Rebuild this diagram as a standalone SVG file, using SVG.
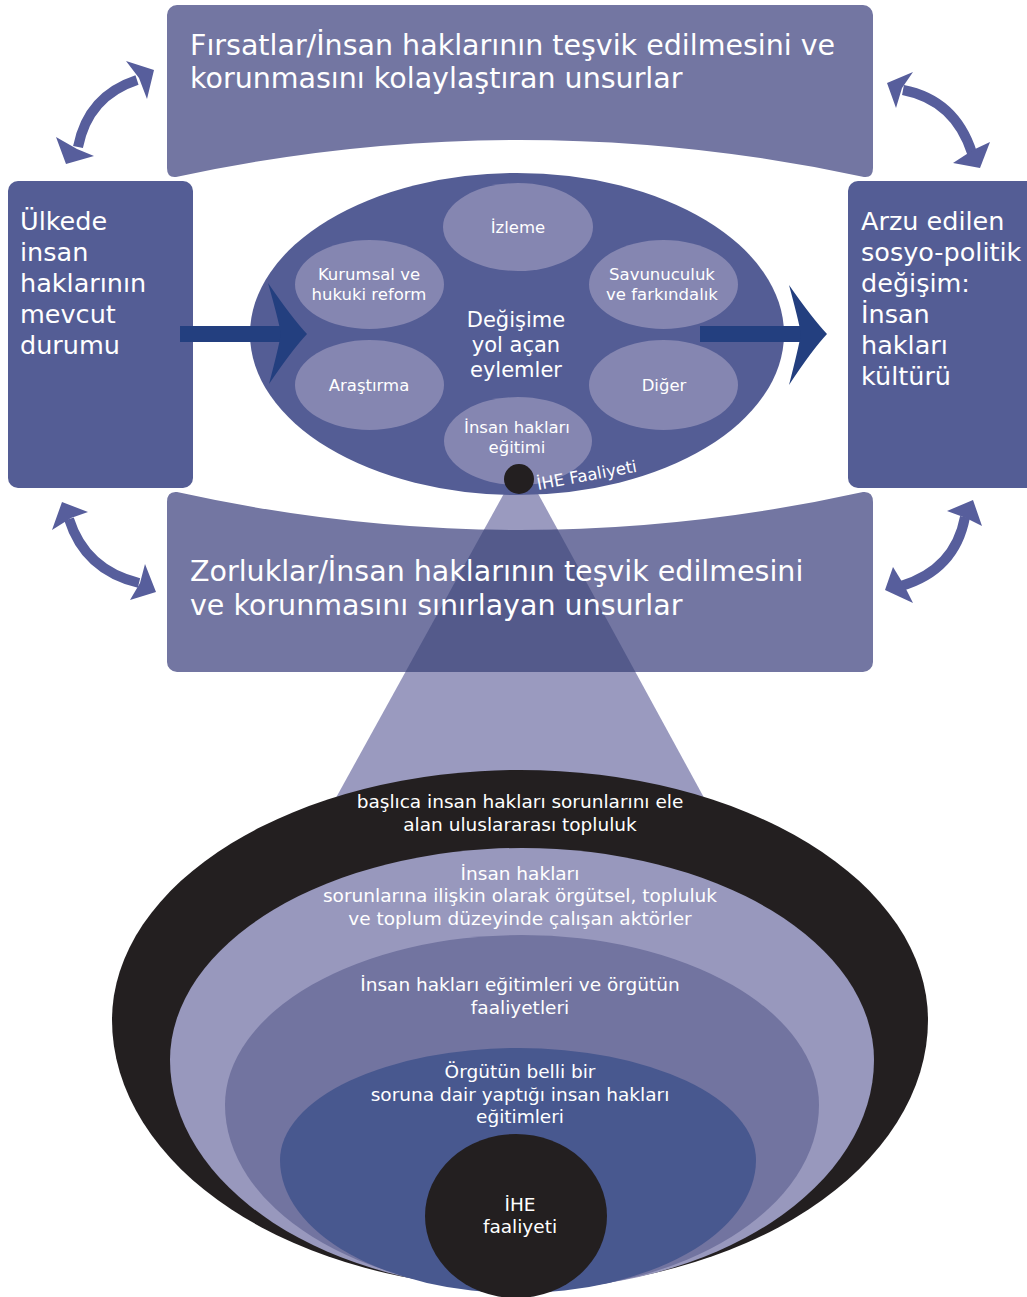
<svg xmlns="http://www.w3.org/2000/svg" width="1027" height="1297" viewBox="0 0 1027 1297">
<style>
text{font-family:"DejaVu Sans","Verdana",sans-serif;fill:#ffffff}
.title{font-size:28.5px}
.side{font-size:25.5px}
.mid{font-size:21px;text-anchor:middle}
.sm{font-size:16.5px;text-anchor:middle}
.bt{font-size:18.5px;text-anchor:middle}
.soft{fill:#7376a2}
.dark{fill:#545d95}
.sub{fill:#8586b1}
.curv{fill:none;stroke:#575e9c;stroke-width:10}
.head{fill:#575e9c}
.big{fill:#233f7f}
</style>
<defs>
<path id="zorBox" d="M177,492 Q520,568 863,492 Q873,491 873,502 V662 A10 10 0 0 1 863,672 H177 A10 10 0 0 1 167,662 V502 Q167,491 177,492 Z"/>
<clipPath id="zorClip"><use href="#zorBox"/></clipPath>
</defs>

<!-- cone -->
<g id="cone">
<polygon points="507,488 535,488 708,805 332,805" fill="#9a9abf"/>
</g>

<g id="node-firsatlar">
<path class="soft" d="M177,5 H863 A10 10 0 0 1 873,15 V168 Q873,178 864,177 Q520,103 176,177 Q167,178 167,168 V15 A10 10 0 0 1 177,5 Z"/>
<text class="title" x="190" y="55">Fırsatlar/İnsan haklarının teşvik edilmesini ve</text>
<text class="title" x="190" y="88">korunmasını kolaylaştıran unsurlar</text>
</g>

<g id="node-zorluklar">
<use href="#zorBox" class="soft"/>
<polygon points="507,488 535,488 708,805 332,805" fill="#545a8b" clip-path="url(#zorClip)"/>
<text class="title" x="190" y="581">Zorluklar/İnsan haklarının teşvik edilmesini</text>
<text class="title" x="190" y="615">ve korunmasını sınırlayan unsurlar</text>
</g>

<g id="node-mevcut">
<rect class="dark" x="8" y="181" width="185" height="307" rx="10"/>
<text class="side" x="20" y="230">Ülkede</text>
<text class="side" x="20" y="261">insan</text>
<text class="side" x="20" y="292">haklarının</text>
<text class="side" x="20" y="323">mevcut</text>
<text class="side" x="20" y="354">durumu</text>
</g>

<g id="node-arzu">
<rect class="dark" x="848" y="181" width="195" height="307" rx="10"/>
<text class="side" x="861" y="230">Arzu edilen</text>
<text class="side" x="861" y="261">sosyo-politik</text>
<text class="side" x="861" y="292">değişim:</text>
<text class="side" x="861" y="323">İnsan</text>
<text class="side" x="861" y="354">hakları</text>
<text class="side" x="861" y="385">kültürü</text>
</g>

<g id="node-eylemler">
<ellipse class="dark" cx="517" cy="334" rx="267" ry="161"/>
<text class="mid" x="516" y="327">Değişime</text>
<text class="mid" x="516" y="352">yol açan</text>
<text class="mid" x="516" y="377">eylemler</text>
</g>

<g id="node-izleme">
<ellipse class="sub" cx="518" cy="227" rx="75" ry="44"/>
<text class="sm" x="518" y="233">İzleme</text>
</g>
<g id="node-kurumsal">
<ellipse class="sub" cx="369.5" cy="284.5" rx="74.5" ry="44.5"/>
<text class="sm" x="369" y="280">Kurumsal ve</text>
<text class="sm" x="369" y="300">hukuki reform</text>
</g>
<g id="node-savunuculuk">
<ellipse class="sub" cx="663.5" cy="284.5" rx="74.5" ry="44.5"/>
<text class="sm" x="662" y="280">Savunuculuk</text>
<text class="sm" x="662" y="300">ve farkındalık</text>
</g>
<g id="node-arastirma">
<ellipse class="sub" cx="369.5" cy="385" rx="74.5" ry="45"/>
<text class="sm" x="369" y="391">Araştırma</text>
</g>
<g id="node-diger">
<ellipse class="sub" cx="663.5" cy="385" rx="74.5" ry="45"/>
<text class="sm" x="664" y="391">Diğer</text>
</g>
<g id="node-egitim">
<ellipse class="sub" cx="518" cy="441" rx="74" ry="44"/>
<text class="sm" x="517" y="433">İnsan hakları</text>
<text class="sm" x="517" y="453">eğitimi</text>
</g>
<g id="node-ihe-dot">
<circle cx="519" cy="479" r="15" fill="#231f20"/>
<text x="0" y="0" font-size="16.5" transform="translate(538,490) rotate(-10.5)">İHE Faaliyeti</text>
</g>

<g id="connectors">
<rect class="big" x="180" y="326" width="102" height="16"/>
<path class="big" d="M268,283 Q292,318 307,334 Q292,350 269,384 Q278,350 281,334 Q278,318 268,283 Z"/>
<rect class="big" x="700" y="326" width="102" height="16"/>
<path class="big" d="M789,285 Q812,318 827,334 Q812,350 789,385 Q798,350 801,334 Q798,318 789,285 Z"/>

<path class="curv" d="M78,147 Q88,96 137,80"/>
<polygon class="head" points="154,70 126,61 139,78 147,99"/>
<polygon class="head" points="66,164 56,137 77,149 94,156"/>

<path class="curv" d="M903,90 Q955,100 972,153"/>
<polygon class="head" points="887,83 913,72 902,88 896,108"/>
<polygon class="head" points="980,168 990,142 973,150 953,163"/>

<path class="curv" d="M69,519 Q85,570 139,583"/>
<polygon class="head" points="62,502 52,530 71,518 88,512"/>
<polygon class="head" points="156,592 130,600 140,583 145,564"/>

<path class="curv" d="M965,517 Q955,570 901,586"/>
<polygon class="head" points="973,500 947,511 966,518 982,526"/>
<polygon class="head" points="885,590 893,567 904,585 913,603"/>
</g>

<g id="node-uluslararasi">
<path fill="#231f20" d="M112,1020 A408 250 0 0 1 928,1020 A408 268 0 0 1 520,1288 A408 268 0 0 1 112,1020 Z"/>
<text class="bt" x="520" y="808">başlıca insan hakları sorunlarını ele</text>
<text class="bt" x="520" y="831">alan uluslararası topluluk</text>
</g>
<g id="node-aktorler">
<path fill="#9898bd" d="M170,1060 A352 212 0 0 1 874,1060 A352 230 0 0 1 522,1290 A352 230 0 0 1 170,1060 Z"/>
<text class="bt" x="520" y="880">İnsan hakları</text>
<text class="bt" x="520" y="902">sorunlarına ilişkin olarak örgütsel, topluluk</text>
<text class="bt" x="520" y="925">ve toplum düzeyinde çalışan aktörler</text>
</g>
<g id="node-orgut">
<path fill="#7274a0" d="M225,1105 A297 170 0 0 1 819,1105 A297 186 0 0 1 522,1291 A297 186 0 0 1 225,1105 Z"/>
<text class="bt" x="520" y="991">İnsan hakları eğitimleri ve örgütün</text>
<text class="bt" x="520" y="1014">faaliyetleri</text>
</g>
<g id="node-sorun">
<path fill="#48588f" d="M280,1160 A238 112 0 0 1 756,1160 A238 133 0 0 1 518,1293 A238 133 0 0 1 280,1160 Z"/>
<text class="bt" x="520" y="1078">Örgütün belli bir</text>
<text class="bt" x="520" y="1101">soruna dair yaptığı insan hakları</text>
<text class="bt" x="520" y="1123">eğitimleri</text>
</g>
<g id="node-ihe">
<ellipse cx="516" cy="1216" rx="91" ry="82" fill="#231f20"/>
<text class="bt" x="520" y="1211">İHE</text>
<text class="bt" x="520" y="1233">faaliyeti</text>
</g>
</svg>
